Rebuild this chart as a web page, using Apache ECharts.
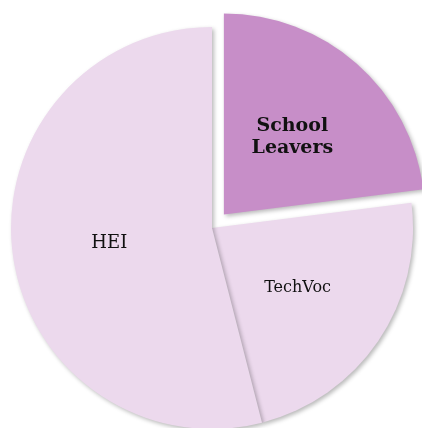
<!DOCTYPE html>
<html>
<head>
<meta charset="utf-8">
<script src="https://cdn.jsdelivr.net/npm/echarts@6/dist/echarts.min.js"></script>
<style>
  html, body { margin: 0; padding: 0; background: #fff; }
  #main { width: 422px; height: 428px; }
</style>
</head>
<body>
<div id="main"></div>
<script>
var categories = ['School Leavers', 'TechVoc', 'HEI'];
var values = [23, 23, 54];
var colors = ['#c78ec8', '#ecd9ed', '#ecd9ed'];
var labelTexts = ['School\nLeavers', 'TechVoc', 'HEI'];
var boldLabel = [true, false, false];
var labelSizes = [19, 16, 18];

var chart = echarts.init(document.getElementById('main'));

var pieData = [];
for (var i = 0; i < categories.length; i++) {
    pieData.push({
        name: categories[i],
        value: values[i],
        selected: i == 0,
        itemStyle: { color: colors[i] },
        select: { itemStyle: { color: colors[i] } },
        label: {
            fontWeight: boldLabel[i] ? 'bold' : 'normal',
            fontSize: labelSizes[i],
            formatter: labelTexts[i]
        }
    });
}

var option = {
    animation: false,
    series: [{
        type: 'pie',
        center: [212, 228],
        radius: 201,
        startAngle: 90,
        clockwise: true,
        selectedMode: 'single',
        selectedOffset: 18,
        silent: true,
        itemStyle: {
            shadowBlur: 4,
            shadowOffsetX: 2,
            shadowOffsetY: 2,
            shadowColor: 'rgba(0,0,0,0.28)'
        },
        label: {
            show: true,
            position: 'inside',
            color: '#111',
            fontFamily: 'DejaVu Serif',
            lineHeight: 22,
            offset: [0, 2]
        },
        labelLine: { show: false },
        data: pieData
    }]
};

chart.setOption(option);
</script>
</body>
</html>
